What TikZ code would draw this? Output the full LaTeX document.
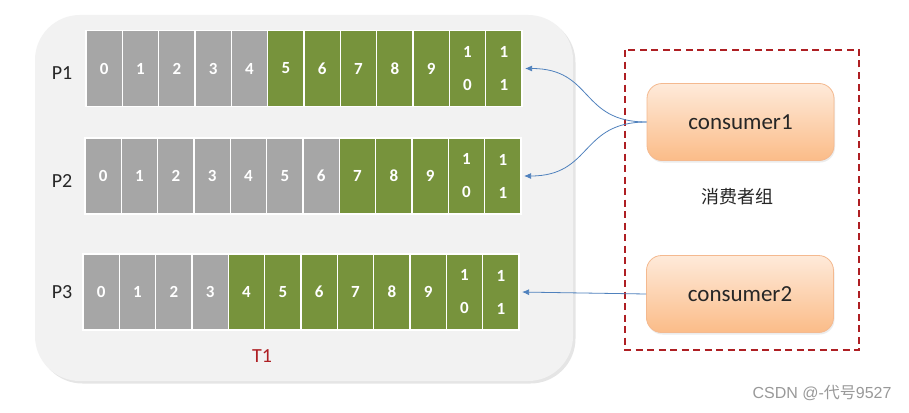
\documentclass[tikz,border=0pt]{standalone}
\usepackage{fontspec}
\setmainfont{Carlito}
\newfontfamily\cjk{Noto Sans CJK SC}
\newfontfamily\wmfont{Liberation Sans}
\usetikzlibrary{arrows.meta,shadows}
\definecolor{oldgray}{HTML}{A6A6A6}
\definecolor{olive}{HTML}{77933C}
\definecolor{panelgray}{HTML}{F2F2F2}
\definecolor{grpred}{HTML}{AE1F23}
\definecolor{linkblue}{HTML}{4F81BD}
\definecolor{conlight}{HTML}{FEEADA}
\definecolor{condark}{HTML}{FBBC88}
\definecolor{conedge}{HTML}{F4B98F}
\tikzset{
  cell/.style={minimum width=36.33pt, minimum height=76pt, inner sep=0pt,
    draw=white, line width=1.2pt, text=white, align=center,
    font=\fontsize{17}{33}\selectfont\bfseries},
  plabel/.style={font=\fontsize{20}{20}\selectfont, text=black!85},
  consumer/.style={rounded corners=15pt, minimum width=187pt, minimum height=77pt,
    draw=conedge, line width=0.8pt, top color=conlight, bottom color=condark,
    text=black!85, font=\fontsize{23}{23}\selectfont,
    drop shadow={shadow xshift=1pt, shadow yshift=-2pt, opacity=0.15}},
  link/.style={draw=linkblue, line width=0.8pt, -{Latex[length=7pt,width=6pt]}, shorten >=2.5pt},
}
\begin{document}
\begin{tikzpicture}[x=1pt, y=-1pt]
\useasboundingbox[fill=white] (0,0) rectangle (909,412);
% topic panel
\fill[panelgray, rounded corners=45pt,
  drop shadow={shadow xshift=2.5pt, shadow yshift=-2.5pt, opacity=0.2}]
  (35,15) rectangle (573,381);
% partitions
\foreach \r/\x/\y/\g/\ly in {1/86/68.5/5/73.5, 2/85/176/7/181.5, 3/83/292/4/292} {
  \node[plabel] (lab\r) at (62,\ly) {P\r};
  \foreach \t [count=\i from 0] in {0,1,2,3,4,5,6,7,8,9,{1\\0},{1\\1}} {
    \ifnum\i<\g \def\col{oldgray}\else\def\col{olive}\fi
    \node[cell, fill=\col] (p\r c\i) at (\x+36.33*\i+18.17,\y) {\t};
  }
}
\node[text=grpred, font=\fontsize{20}{20}\selectfont] (topic) at (262,356) {T1};
% consumer group
\draw[grpred, line width=2pt, dash pattern=on 7pt off 4.5pt] (625,50) rectangle (859,350);
\node[consumer] (c1) at (740.5,122) {consumer1};
\node[consumer] (c2) at (740,294) {consumer2};
\node[font=\cjk\fontsize{18}{18}\selectfont, text=black!85] (grp) at (737,197) {消费者组};
\draw[link] (c1.west) .. controls +(-67,0) and +(71,0) .. (p1c11.east);
\draw[link] (c1.west) .. controls +(-67,0) and +(71,0) .. (p2c11.east);
\draw[link] (c2.west) -- (p3c11.east);
\node[text=black!40, font=\wmfont\fontsize{16}{16}\selectfont] (mark) at (822,393) {CSDN @-{\cjk 代号}9527};
\end{tikzpicture}
\end{document}
